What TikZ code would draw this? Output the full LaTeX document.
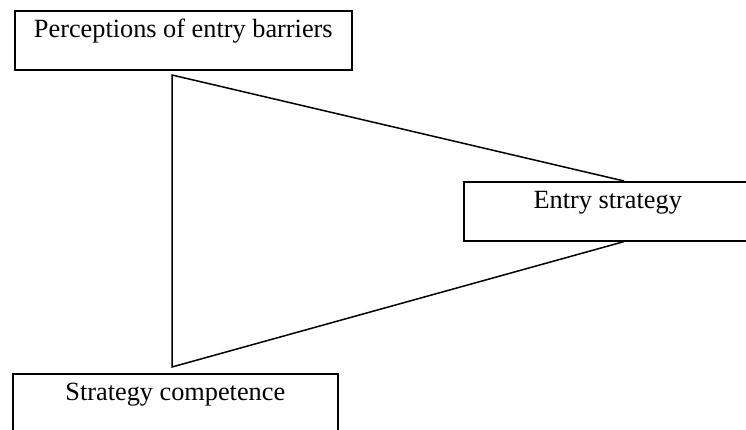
\documentclass[tikz,border=0pt]{standalone}
\usepackage{fontspec}
\setmainfont{Liberation Serif}
\usetikzlibrary{positioning,calc}

\begin{document}
\begin{tikzpicture}[
    x=1pt, y=-1pt,
    box/.style={rectangle, draw, line width=1.6pt, inner xsep=0pt, inner ysep=0pt,
        text height=27pt, text depth=32pt, anchor=north west,
        font=\fontsize{26.3}{30}\selectfont},
    edge/.style={line width=1.5pt, line join=miter}
]
    \useasboundingbox (0,0) rectangle (746,429);
    \node[box, minimum width=337pt] (barriers) at (14,10) {Perceptions of entry barriers};
    \node[box, minimum width=288pt] (entry) at (463,181) {Entry strategy};
    \node[box, minimum width=325pt, text depth=70pt] (competence) at (12,373) {Strategy competence};

    \coordinate (top) at (172,75);
    \coordinate (bottom) at (172,367);
    \coordinate (in) at ($(entry.north west)+(161,0)$);
    \coordinate (out) at ($(entry.south west)+(161,0)$);

    \draw[edge] (in) -- (top) -- (bottom) -- (out);
\end{tikzpicture}
\end{document}
